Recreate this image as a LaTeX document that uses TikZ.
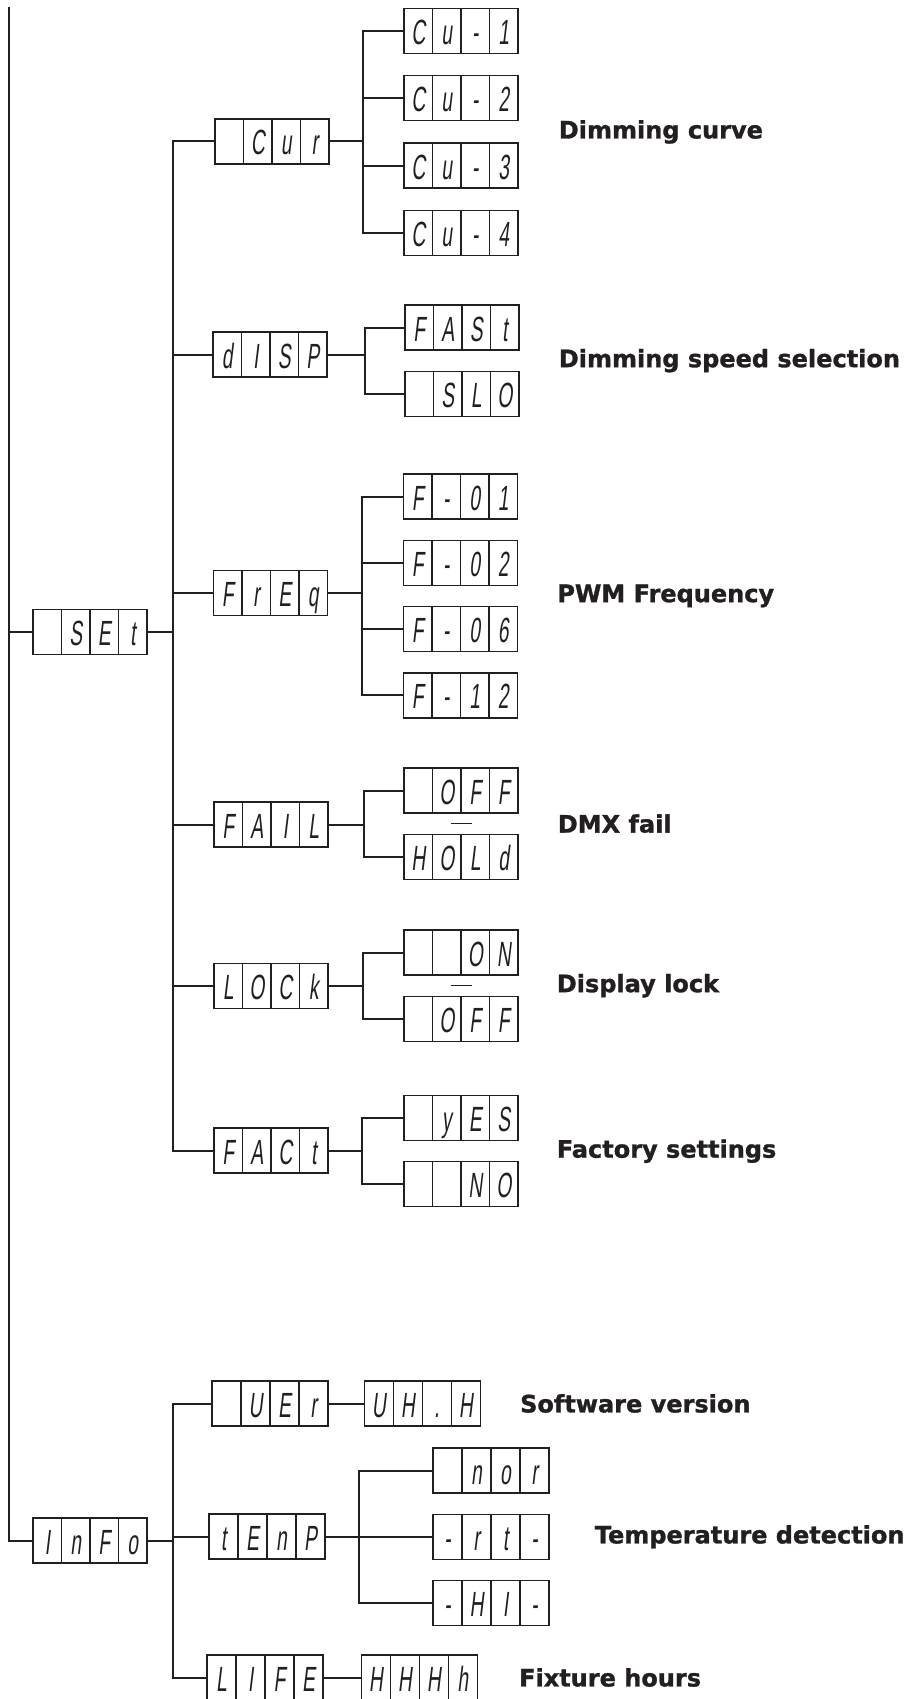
\documentclass[tikz,border=0pt]{standalone}
\usepackage{fontspec}
\usetikzlibrary{positioning,calc}
\newfontfamily\segfont[FakeSlant=0.12,FakeStretch=0.55]{Liberation Sans}
\newfontfamily\notefont[BoldFeatures={FakeBold=1.2}]{DejaVu Sans}
\definecolor{ink}{HTML}{231F20}
\def\segcell{28.5pt}
\newcommand\seg[4]{\makebox[\segcell]{#1}\makebox[\segcell]{#2}\makebox[\segcell]{#3}\makebox[\segcell]{#4}\rule[-9pt]{0pt}{45pt}}
\tikzset{lcd/.style={draw=ink,line width=1.3pt,inner sep=0pt,minimum width=114pt,minimum height=45pt,text=ink,font=\segfont\fontsize{35}{40}\selectfont,execute at begin node={\def\segcell{28.5pt}},path picture={\foreach \k in {1,2,3}\draw[ink,line width=1.2pt] ($(path picture bounding box.south west)!\k/4!(path picture bounding box.south east)$)--($(path picture bounding box.north west)!\k/4!(path picture bounding box.north east)$);}},lcdw/.style={lcd,minimum width=116pt,execute at begin node={\def\segcell{29pt}}},wire/.style={draw=ink,line width=2pt},sep/.style={draw=ink,line width=1.4pt},note/.style={font=\notefont\bfseries\fontsize{24}{28}\selectfont,text=ink,inner sep=0pt}}

\begin{document}
\begin{tikzpicture}[x=1pt,y=-1pt]
\useasboundingbox (0,0) rectangle (914,1699);
\node[lcd] (set) at (90,632) {\seg{}{S}{E}{t}};
\node[lcd] (info) at (90,1540.5) {\seg{I}{n}{F}{o}};
\node[lcd] (cur) at (272,141.5) {\seg{}{C}{u}{r}};
\node[lcd] (disp) at (270,354.5) {\seg{d}{I}{S}{P}};
\node[lcd] (freq) at (270.5,593) {\seg{F}{r}{E}{q}};
\node[lcd] (fail) at (271,824.5) {\seg{F}{A}{I}{L}};
\node[lcd] (lock) at (271,986) {\seg{L}{O}{C}{k}};
\node[lcd] (fact) at (271,1150.5) {\seg{F}{A}{C}{t}};
\node[lcd] (cu1) at (461,31) {\seg{C}{u}{-}{1}};
\node[lcd,below=21pt of cu1] (cu2) {\seg{C}{u}{-}{2}};
\node[lcd,below=21pt of cu2] (cu3) {\seg{C}{u}{-}{3}};
\node[lcd,below=21pt of cu3] (cu4) {\seg{C}{u}{-}{4}};
\node[lcd] (fast) at (462,327.5) {\seg{F}{A}{S}{t}};
\node[lcd,below=20pt of fast] (slo) {\seg{}{S}{L}{O}};
\node[lcd] (f01) at (460.5,496.5) {\seg{F}{-}{0}{1}};
\node[lcd,below=20pt of f01] (f02) {\seg{F}{-}{0}{2}};
\node[lcd,below=20pt of f02] (f06) {\seg{F}{-}{0}{6}};
\node[lcd,below=20pt of f06] (f12) {\seg{F}{-}{1}{2}};
\node[lcd] (off) at (461,790.5) {\seg{}{O}{F}{F}};
\node[lcd,below=20pt of off] (hold) {\seg{H}{O}{L}{d}};
\node[lcd] (on) at (461,952.5) {\seg{}{}{O}{N}};
\node[lcd,below=20pt of on] (unlock) {\seg{}{O}{F}{F}};
\node[lcd] (yes) at (461,1118) {\seg{}{y}{E}{S}};
\node[lcd,below=20pt of yes] (no) {\seg{}{}{N}{O}};
\node[lcdw] (ver) at (270,1403.5) {\seg{}{U}{E}{r}};
\node[lcdw,right=35pt of ver] (vnum) {\seg{U}{H}{.}{H}};
\node[lcdw] (temp) at (267,1536.5) {\seg{t}{E}{n}{P}};
\node[lcdw] (nor) at (491,1470.5) {\seg{}{n}{o}{r}};
\node[lcdw,below=20pt of nor] (rt) {\seg{-}{r}{t}{-}};
\node[lcdw,below=20pt of rt] (hi) {\seg{-}{H}{I}{-}};
\node[lcdw] (life) at (265,1677.5) {\seg{L}{I}{F}{E}};
\node[lcdw,right=37pt of life] (hours) {\seg{H}{H}{H}{h}};
\coordinate (top) at (9,7);
\draw[wire] (top) |- (info.west);
\draw[wire] (set.west) -- (set.west -| top);
\foreach \m in {cur,disp,freq,fail,lock,fact} \draw[wire] (set.east) -- ++(25,0) |- (\m.west);
\foreach \m in {ver,temp,life} \draw[wire] (info.east) -- ++(25,0) |- (\m.west);
\foreach \c in {cu1,cu2,cu3,cu4} \draw[wire] (cur.east) -- ++(33,0) |- (\c.west);
\foreach \c in {fast,slo} \draw[wire] (disp.east) -- ++(37,0) |- (\c.west);
\foreach \c in {f01,f02,f06,f12} \draw[wire] (freq.east) -- ++(34,0) |- (\c.west);
\foreach \c in {off,hold} \draw[wire] (fail.east) -- ++(35,0) |- (\c.west);
\foreach \c in {on,unlock} \draw[wire] (lock.east) -- ++(34,0) |- (\c.west);
\foreach \c in {yes,no} \draw[wire] (fact.east) -- ++(33,0) |- (\c.west);
\foreach \c in {nor,rt,hi} \draw[wire] (temp.east) -- ++(33,0) |- (\c.west);
\draw[wire] (ver) -- (vnum);
\draw[wire] (life) -- (hours);
\draw[sep] ($(off.south)!.5!(hold.north)$) +(-10.5,0) -- +(10.5,0);
\draw[sep] ($(on.south)!.5!(unlock.north)$) +(-10.5,0) -- +(10.5,0);
\coordinate (mcurve) at ($(cu2.east)!.5!(cu3.east)$);
\coordinate (mspeed) at ($(fast.east)!.5!(slo.east)$);
\coordinate (mfreq) at ($(f02.east)!.5!(f06.east)$);
\coordinate (mfail) at ($(off.east)!.5!(hold.east)$);
\coordinate (mlock) at ($(on.east)!.5!(unlock.east)$);
\coordinate (mfact) at ($(yes.east)!.5!(no.east)$);
\node[note,right=40pt of mcurve] (lcurve) {Dimming curve};
\node[note,right=39pt of mspeed] (lspeed) {Dimming speed selection};
\node[note,right=39pt of mfreq] (lfreq) {PWM Frequency};
\node[note,right=39pt of mfail] (lfail) {DMX fail};
\node[note,right=38pt of mlock] (llock) {Display lock};
\node[note,right=38pt of mfact] (lfact) {Factory settings};
\node[note,right=39pt of vnum] (lver) {Software version};
\node[note,right=45pt of rt] (ltemp) {Temperature detection};
\node[note,right=41pt of hours] (lhours) {Fixture hours};
\end{tikzpicture}
\end{document}
